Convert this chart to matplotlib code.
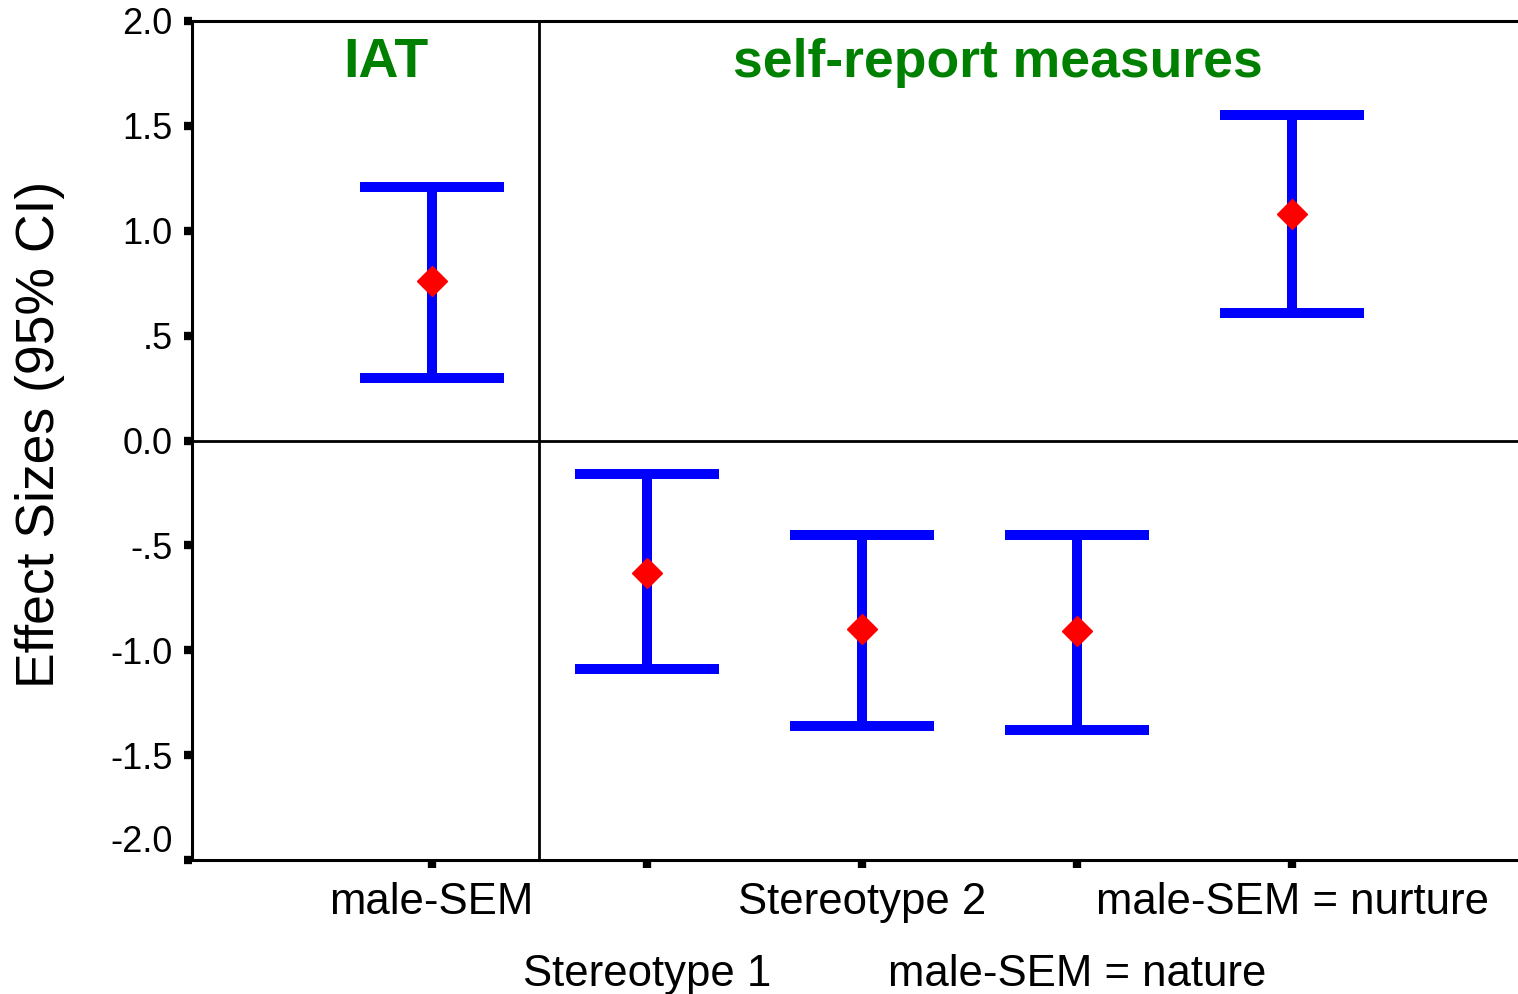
import matplotlib
matplotlib.use("Agg")
import matplotlib.pyplot as plt

plt.rcParams['font.family'] = ['Liberation Sans', 'DejaVu Sans']

# data
labels = ["male-SEM", "Stereotype 1", "Stereotype 2", "male-SEM = nature", "male-SEM = nurture"]
means = [0.76, -0.63, -0.90, -0.91, 1.08]
lower = [0.30, -1.09, -1.36, -1.38, 0.61]
upper = [1.21, -0.16, -0.45, -0.45, 1.55]
yticks = [2.0, 1.5, 1.0, 0.5, 0.0, -0.5, -1.0, -1.5, -2.0]
ytick_labels = ["2.0", "1.5", "1.0", ".5", "0.0", "-.5", "-1.0", "-1.5", "-2.0"]

x = list(range(len(labels)))
err_lo = [m - l for m, l in zip(means, lower)]
err_hi = [u - m for m, u in zip(means, upper)]

fig = plt.figure(figsize=(15.18, 9.94), dpi=100)
ax = fig.add_axes([192 / 1518, 134 / 994, 1.0 - 192 / 1518 + 0.01, (860 - 21) / 994])

ax.errorbar(x, means, yerr=[err_lo, err_hi], fmt='D', color='blue',
            ecolor='blue', elinewidth=7.2, capsize=52, capthick=7.2,
            markerfacecolor='red', markeredgecolor='red', markersize=15, zorder=3)

ax.axhline(0, color='black', lw=2.0, zorder=1)
ax.axvline(0.5, color='black', lw=2.0, zorder=1)

ax.set_xlim(-1.114, 5.12)
ax.set_ylim(-2.0, 2.0)

ax.set_yticks(yticks)
ax.set_yticklabels(ytick_labels, fontsize=26)
ax.set_xticks(x)
ax.set_xticklabels(labels, fontsize=31.5)

for s in ax.spines.values():
    s.set_linewidth(2.2)
ax.spines['right'].set_visible(False)

ax.tick_params(axis='both', direction='out', length=6, width=6, color='black')
ax.tick_params(axis='y', pad=8)
ax.tick_params(axis='x', pad=10)
for i, t in enumerate(ax.xaxis.get_major_ticks()):
    if i % 2 == 1:
        t.set_pad(62)
ax.get_yticklabels()[-1].set_verticalalignment('bottom')

ax.set_ylabel("Effect Sizes (95% CI)", fontsize=38.5)
ax.yaxis.set_label_coords(-0.095, 0.507)

ax.text(-0.215, 1.80, "IAT", color='#008000', fontsize=40, fontweight='bold',
        ha='center', va='center')
ax.text(2.63, 1.80, "self-report measures", color='#008000', fontsize=38.5,
        fontweight='bold', ha='center', va='center')

fig.savefig("out.png", dpi=100)
